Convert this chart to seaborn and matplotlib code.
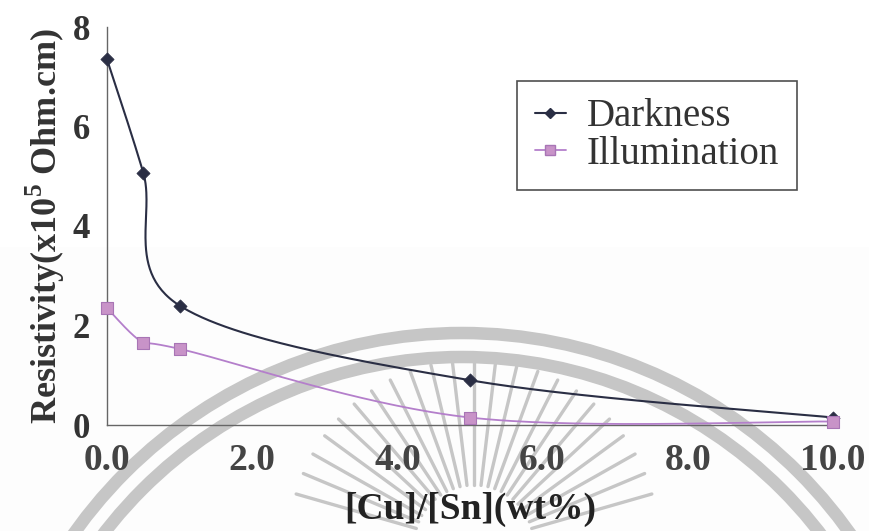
import numpy as np
import pandas as pd
import matplotlib
matplotlib.use("Agg")
import matplotlib.pyplot as plt
from matplotlib import patches
from matplotlib.lines import Line2D
import seaborn as sns

# Cu/Sn ratio (wt%) and resistivity (x10^5 Ohm.cm)
cu_sn = [0.0, 0.5, 1.0, 5.0, 10.0]
darkness = [7.35, 5.07, 2.40, 0.90, 0.15]
illumination = [2.35, 1.65, 1.53, 0.15, 0.07]
x_ticks = [0, 2, 4, 6, 8, 10]
x_tick_labels = ["0.0", "2.0", "4.0", "6.0", "8.0", "10.0"]
y_ticks = [0, 2, 4, 6, 8]

sns.set_theme(style="white")
plt.rcParams["font.family"] = ["Liberation Serif", "DejaVu Serif"]
plt.rcParams["mathtext.fontset"] = "custom"
plt.rcParams["mathtext.rm"] = "Liberation Serif"
plt.rcParams["mathtext.bf"] = "Liberation Serif:bold"


def smooth_curve(xs, ys, n=60):
    """Cardinal (Catmull-Rom) Bezier smoothing through the points."""
    p = np.column_stack([xs, ys]).astype(float)
    pad = np.vstack([p[0], p, p[-1]])
    out = []
    t = np.linspace(0, 1, n)[:, None]
    for i in range(len(p) - 1):
        p0, p3 = pad[i + 1], pad[i + 2]
        c1 = p0 + (pad[i + 2] - pad[i]) / 6.0
        c2 = p3 - (pad[i + 3] - pad[i + 1]) / 6.0
        seg = ((1 - t) ** 3) * p0 + 3 * t * (1 - t) ** 2 * c1 \
            + 3 * t ** 2 * (1 - t) * c2 + t ** 3 * p3
        out.append(seg if i == 0 else seg[1:])
    out = np.vstack(out)
    return out[:, 0], out[:, 1]


W, H = 869, 531
fig = plt.figure(figsize=(W / 100, H / 100), dpi=100)

# faint seal in the background
bg = fig.add_axes([0, 0, 1, 1], zorder=0)
bg.set_xlim(0, W)
bg.set_ylim(H, 0)
bg.axis("off")
bg.add_patch(patches.Rectangle((0, 247), W, H - 247, color="#fdfdfd", lw=0))
seal = "#c6c6c6"
for r in (476, 452):
    bg.add_patch(patches.Circle((462, 809), r, fill=False, lw=9.0, ec=seal))
cx, cy = 474, 545
for ang in np.linspace(16, 164, 23):
    a = np.deg2rad(ang)
    r0, r1 = 60, 185
    bg.plot([cx + r0 * np.cos(a), cx + r1 * np.cos(a)],
            [cy - r0 * np.sin(a), cy - r1 * np.sin(a)],
            color=seal, lw=2.4, solid_capstyle="round")

ax = fig.add_axes([107 / W, 1 - 425 / H, (833 - 107) / W, (425 - 27) / H], zorder=1)
ax.set_facecolor("none")

dark_col = "#2a2e44"
illum_line = "#b47fcb"
illum_face = "#c893c8"

sx, sy = smooth_curve(cu_sn, darkness)
ax.plot(sx, sy, color=dark_col, lw=1.5, zorder=3)
sx, sy = smooth_curve(cu_sn, illumination)
ax.plot(sx, sy, color=illum_line, lw=1.3, zorder=3)

df = pd.DataFrame({"x": cu_sn * 2,
                   "y": darkness + illumination,
                   "series": ["Darkness"] * 5 + ["Illumination"] * 5})
sns.scatterplot(data=df[df.series == "Darkness"], x="x", y="y", ax=ax,
                marker="D", s=45, color=dark_col, edgecolor=dark_col,
                zorder=4, clip_on=False, legend=False)
sns.scatterplot(data=df[df.series == "Illumination"], x="x", y="y", ax=ax,
                marker="s", s=75, color=illum_face, edgecolor="#a875b5",
                linewidth=0.8, zorder=4, clip_on=False, legend=False)

ax.set_xlim(0, 10)
ax.set_ylim(0, 8)
ax.set_xticks(x_ticks)
ax.set_xticklabels(x_tick_labels)
ax.set_yticks(y_ticks)
for s in ("top", "right"):
    ax.spines[s].set_visible(False)
for s in ("left", "bottom"):
    ax.spines[s].set_color("#666666")
    ax.spines[s].set_linewidth(1.0)
ax.tick_params(axis="both", direction="out", length=4, width=1, color="#666666")
ax.tick_params(axis="x", labelsize=27, pad=9, labelcolor="#444444")
ax.tick_params(axis="y", labelsize=25, pad=8, labelcolor="#333333")
for lab in ax.get_xticklabels() + ax.get_yticklabels():
    lab.set_fontweight("bold")

ax.set_xlabel("[Cu]/[Sn](wt%)", fontsize=27, fontweight="bold", labelpad=10,
              color="#222222")
ax.set_ylabel(r"Resistivity(x10$^{\mathbf{5}}$ Ohm.cm)", fontsize=26,
              fontweight="bold", labelpad=4, color="#333333")

handles = [
    Line2D([], [], color=dark_col, lw=1.5, marker="D", markersize=5,
           markerfacecolor=dark_col),
    Line2D([], [], color=illum_line, lw=1.3, marker="s", markersize=7,
           markerfacecolor=illum_face, markeredgecolor="#a875b5"),
]
leg = ax.legend(handles, ["Darkness", "Illumination"],
                loc="upper left", bbox_to_anchor=((517 - 107) / (833 - 107),
                                                  (425 - 81) / (425 - 27)),
                fontsize=28, frameon=True, fancybox=False, handlelength=0.8,
                handletextpad=0.55, borderpad=0.45, labelspacing=0.0,
                borderaxespad=0)
leg.get_frame().set_edgecolor("#222222")
leg.get_frame().set_linewidth(1.2)
for t in leg.get_texts():
    t.set_color("#333333")

fig.savefig("out.png", dpi=100)
